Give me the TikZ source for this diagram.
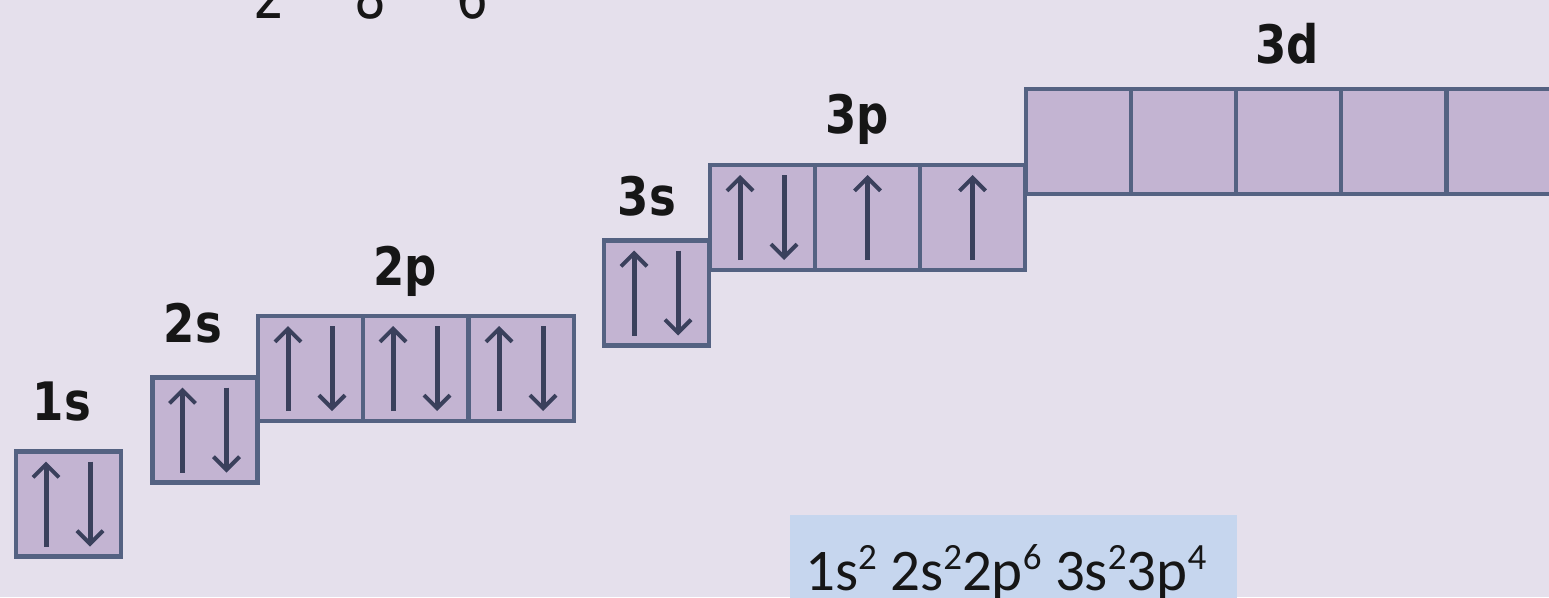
\documentclass[tikz,border=0pt]{standalone}
\usepackage{fontspec}
\usetikzlibrary{arrows.meta,calc}
\newfontfamily\lblfont[FakeStretch=0.85]{DejaVu Sans}
\newfontfamily\cfgfont{Carlito}
\definecolor{bgc}{RGB}{229,224,236}
\definecolor{cellfill}{RGB}{195,180,210}
\definecolor{cellborder}{RGB}{84,98,130}
\definecolor{spinc}{RGB}{58,64,92}
\definecolor{cfgfill}{RGB}{198,214,238}
\definecolor{txtc}{RGB}{22,22,22}
\newcommand\pairspins[1]{%
  \draw[spin] ($(#1.south west)+(30,-10)$) -- ($(#1.north west)+(30,10)$);
  \draw[spin] ($(#1.north west)+(74,10)$) -- ($(#1.south west)+(74,-10)$);}
\newcommand\singlespin[1]{%
  \draw[spin] ($(#1.south)+(0,-10)$) -- ($(#1.north)+(0,10)$);}
\newcommand\sups[1]{\raisebox{21pt}{\fontsize{37}{39}\selectfont #1}}
\begin{document}
\begin{tikzpicture}[x=1pt,y=-1pt,
  cell/.style={draw=cellborder,fill=cellfill,line width=4.5pt,minimum width=105pt,minimum height=105pt,inner sep=0pt,outer sep=0pt},
  spin/.style={draw=spinc,line width=5pt,-{Straight Barb[length=13pt,width=26pt,line width=4pt]}},
  orb/.style={anchor=base,text=txtc,font=\lblfont\bfseries\fontsize{53}{56}\selectfont},
  shellnum/.style={anchor=base,text=txtc,font=\lblfont\fontsize{59}{62}\selectfont}]
\useasboundingbox (0,0) rectangle (1549,597);
\clip (0,0) rectangle (1549,597);
\fill[bgc] (0,0) rectangle (1549,597);
% shell counts (cut by top edge)
\node[shellnum] (n2) at (269,18) {2};
\node[shellnum] (n8) at (370,18) {8};
\node[shellnum] (n6) at (472,18) {6};
% 1s
\node[cell] (s1) at (68.5,504) {};
\node[orb] (l1s) at (62,420) {1s};
% 2s
\node[cell] (s2) at (205,430) {};
\node[orb] (l2s) at (193,342) {2s};
% 2p
\node[cell] (p2a) at (310.5,368.5) {};
\node[cell] (p2b) at (415.5,368.5) {};
\node[cell] (p2c) at (521.5,368.5) {};
\node[orb] (l2p) at (405,285) {2p};
% 3s
\node[cell] (s3) at (656.5,293) {};
\node[orb] (l3s) at (647,215) {3s};
% 3p
\node[cell] (p3a) at (762.5,217.5) {};
\node[cell] (p3b) at (867.5,217.5) {};
\node[cell] (p3c) at (972.5,217.5) {};
\node[orb] (l3p) at (857,133) {3p};
% 3d
\node[cell] (d3a) at (1078.5,141.5) {};
\node[cell] (d3b) at (1183.5,141.5) {};
\node[cell] (d3c) at (1288.5,141.5) {};
\node[cell] (d3d) at (1393.5,141.5) {};
\node[cell] (d3e) at (1499.5,141.5) {};
\node[orb] (l3d) at (1287,63) {3d};
% spins
\pairspins{s1}
\pairspins{s2}
\pairspins{p2a}
\pairspins{p2b}
\pairspins{p2c}
\pairspins{s3}
\pairspins{p3a}
\singlespin{p3b}
\singlespin{p3c}
% configuration box
\node[fill=cfgfill,minimum width=447pt,minimum height=90pt,anchor=north west,inner sep=0pt] (cfgbox) at (790,515) {};
\node[anchor=base west,inner sep=0pt,text=txtc,font=\cfgfont\fontsize{59}{61}\selectfont] (cfg) at (805,590)
  {1s\sups{2} 2s\sups{2}2p\sups{6} 3s\sups{2}3p\sups{4}};
\end{tikzpicture}
\end{document}
